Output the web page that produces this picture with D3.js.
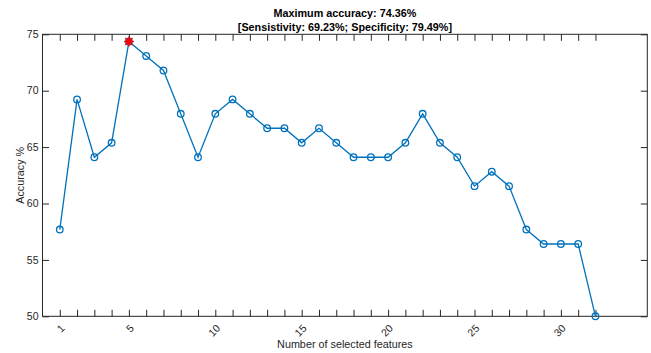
<!DOCTYPE html>
<html>
<head>
<meta charset="utf-8">
<script src="https://cdn.jsdelivr.net/npm/d3@7"></script>
<style>
  body { margin: 0; background: #fff; }
  svg { display: block; font-family: "Liberation Sans", Arial, Helvetica, sans-serif; }
</style>
</head>
<body>
<svg id="chart" width="651" height="353"></svg>
<script>
const features = d3.range(1, 33);
const accuracy = [57.69, 69.23, 64.10, 65.38, 74.36, 73.08, 71.79, 67.95, 64.10, 67.95,
                  69.23, 67.95, 66.67, 66.67, 65.38, 66.67, 65.38, 64.10, 64.10, 64.10,
                  65.38, 67.95, 65.38, 64.10, 61.54, 62.82, 61.54, 57.69, 56.41, 56.41,
                  56.41, 50.00];
const xTickValues = d3.range(1, 33);
const xTickLabels = [1, 5, 10, 15, 20, 25, 30];
const yTickValues = [50, 55, 60, 65, 70, 75];
const titleLines = ["Maximum accuracy: 74.36%", "[Sensistivity: 69.23%; Specificity: 79.49%]"];
const xLabel = "Number of selected features";
const yLabel = "Accuracy %";

const svg = d3.select("#chart");
const L = 42.5, R = 647.3, T = 34.3, B = 316.3;
const axisColor = "#262626";
const x = d3.scaleLinear().domain([0, 35]).range([L, R]);
const y = d3.scaleLinear().domain([50, 75]).range([B, T]);
const tickLen = 6.5;

const xb = svg.append("g").attr("transform", `translate(0,${B})`)
  .call(d3.axisBottom(x).tickValues(xTickValues).tickSize(-tickLen).tickFormat(""));
const xt = svg.append("g").attr("transform", `translate(0,${T})`)
  .call(d3.axisTop(x).tickValues(xTickValues).tickSize(-tickLen).tickFormat(""));
const yl = svg.append("g").attr("transform", `translate(${L},0)`)
  .call(d3.axisLeft(y).tickValues(yTickValues).tickSize(-tickLen).tickFormat(""));
const yr = svg.append("g").attr("transform", `translate(${R},0)`)
  .call(d3.axisRight(y).tickValues(yTickValues).tickSize(-tickLen).tickFormat(""));

[xb, xt, yl, yr].forEach(g => {
  g.selectAll(".tick line").attr("stroke", axisColor).attr("stroke-width", 1);
  g.select(".domain").remove();
});
svg.append("rect").attr("x", L).attr("y", T).attr("width", R - L).attr("height", B - T)
  .attr("fill", "none").attr("stroke", axisColor).attr("stroke-width", 1);

svg.append("g").selectAll("text").data(yTickValues).join("text")
  .attr("x", L - 4).attr("y", d => y(d)).attr("dy", "0.35em")
  .attr("text-anchor", "end").attr("font-size", 10.5).attr("fill", axisColor)
  .text(d => d);

svg.append("g").selectAll("text").data(xTickLabels).join("text")
  .attr("transform", d => `translate(${x(d) + 3},${B + 10}) rotate(-45)`)
  .attr("text-anchor", "end").attr("dy", "0.35em")
  .attr("font-size", 10.5).attr("fill", axisColor)
  .text(d => d);

svg.append("text").attr("x", (L + R) / 2).attr("y", 348)
  .attr("text-anchor", "middle").attr("font-size", 10.8).attr("fill", axisColor)
  .text(xLabel);
svg.append("text").attr("transform", `translate(24,${(T + B) / 2}) rotate(-90)`)
  .attr("text-anchor", "middle").attr("font-size", 10.8).attr("fill", axisColor)
  .text(yLabel);

svg.append("g").selectAll("text").data(titleLines).join("text")
  .attr("x", (L + R) / 2).attr("y", (d, i) => 17 + i * 14)
  .attr("text-anchor", "middle").attr("font-size", 10.8).attr("font-weight", "bold")
  .attr("fill", "#000").text(d => d);

const data = features.map((f, i) => ({ f, a: accuracy[i] }));
svg.append("path").datum(data)
  .attr("fill", "none").attr("stroke", "#0072BD").attr("stroke-width", 1.3)
  .attr("d", d3.line().x(d => x(d.f)).y(d => y(d.a)));
svg.append("g").selectAll("circle").data(data).join("circle")
  .attr("cx", d => x(d.f)).attr("cy", d => y(d.a)).attr("r", 3.3)
  .attr("fill", "none").attr("stroke", "#0072BD").attr("stroke-width", 1.3);

const maxIdx = d3.maxIndex(accuracy);
const mx = x(features[maxIdx]), my = y(accuracy[maxIdx]);
const star = svg.append("g").attr("transform", `translate(${mx},${my})`);
star.append("circle").attr("r", 3).attr("fill", "#ff0000");
[0, 45, 90, 135].forEach(a => {
  star.append("line").attr("x1", -5).attr("x2", 5).attr("y1", 0).attr("y2", 0)
    .attr("transform", `rotate(${a})`).attr("stroke", "#ff0000").attr("stroke-width", 1.4);
});
</script>
</body>
</html>
